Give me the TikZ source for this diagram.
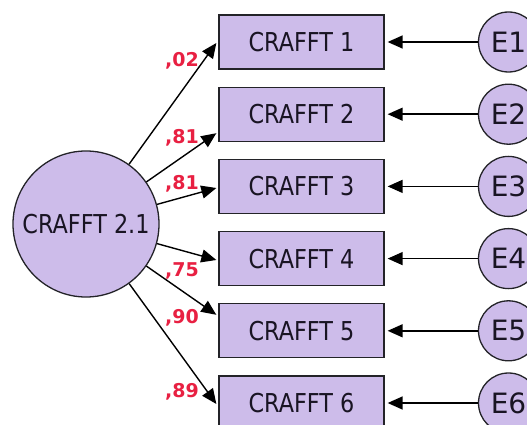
\documentclass[tikz,border=0pt]{standalone}
\usepackage{fontspec}
\setmainfont{DejaVu Sans}[FakeStretch=0.86]
\newfontfamily\widefont{DejaVu Sans}
\usetikzlibrary{arrows.meta,calc}
\definecolor{lav}{RGB}{205,188,234}
\definecolor{edgec}{RGB}{35,35,40}
\definecolor{loadred}{RGB}{232,32,66}
\definecolor{txt}{RGB}{25,20,35}
\begin{document}
\begin{tikzpicture}[x=1pt,y=-1pt,
  tipstyle/.style={-{Triangle[length=15pt,width=13pt]}},
  conn/.style={draw=black, line width=1.4pt, tipstyle},
  obs/.style={draw=edgec, line width=1.3pt, fill=lav, minimum width=165pt, minimum height=54pt, inner sep=0pt, text=txt, font=\fontsize{26}{30}\selectfont},
  lat/.style={circle, draw=edgec, line width=1.3pt, fill=lav, minimum size=146pt, inner sep=0pt, text=txt, font=\fontsize{26}{30}\selectfont},
  err/.style={circle, draw=edgec, line width=1.3pt, fill=lav, minimum size=60pt, inner sep=0pt, text=txt, font=\widefont\fontsize{28}{30}\selectfont},
  lbl/.style={text=loadred, font=\widefont\bfseries\fontsize{19}{22}\selectfont, anchor=base west, inner sep=0pt}
]
\useasboundingbox (0,0) rectangle (527,425);
\clip (0,0) rectangle (527,425);
\node[lat] (L) at (86,224) {CRAFFT 2.1};
\foreach \i/\y in {1/42,2/114.2,3/186.4,4/258.6,5/330.8,6/403}{
  \node[obs] (b\i) at (301.5,\y) {\raisebox{-2pt}{CRAFFT \i}};
  \node[err] (e\i) at (508.5,\y) {\raisebox{-1pt}{E\i}};
  \draw[conn] (e\i) -- ($(b\i.east)+(3,0)$);
}
\draw[conn] (L) -- ($(b1.west)+(-2,1)$);
\draw[conn] (L) -- ($(b2.west)+(-2,19)$);
\draw[conn] (L) -- ($(b3.west)+(-2,1.6)$);
\draw[conn] (L) -- ($(b4.west)+(-2,1.4)$);
\draw[conn] (L) -- ($(b5.west)+(-2,-16)$);
\draw[conn] (L) -- ($(b6.west)+(-2,1)$);
\node[lbl] (l1) at (165,67) {,02};
\node[lbl] (l2) at (165,143) {,81};
\node[lbl] (l3) at (165,189) {,81};
\node[lbl] (l4) at (165,276) {,75};
\node[lbl] (l5) at (165,323) {,90};
\node[lbl] (l6) at (165,397) {,89};
\end{tikzpicture}
\end{document}
